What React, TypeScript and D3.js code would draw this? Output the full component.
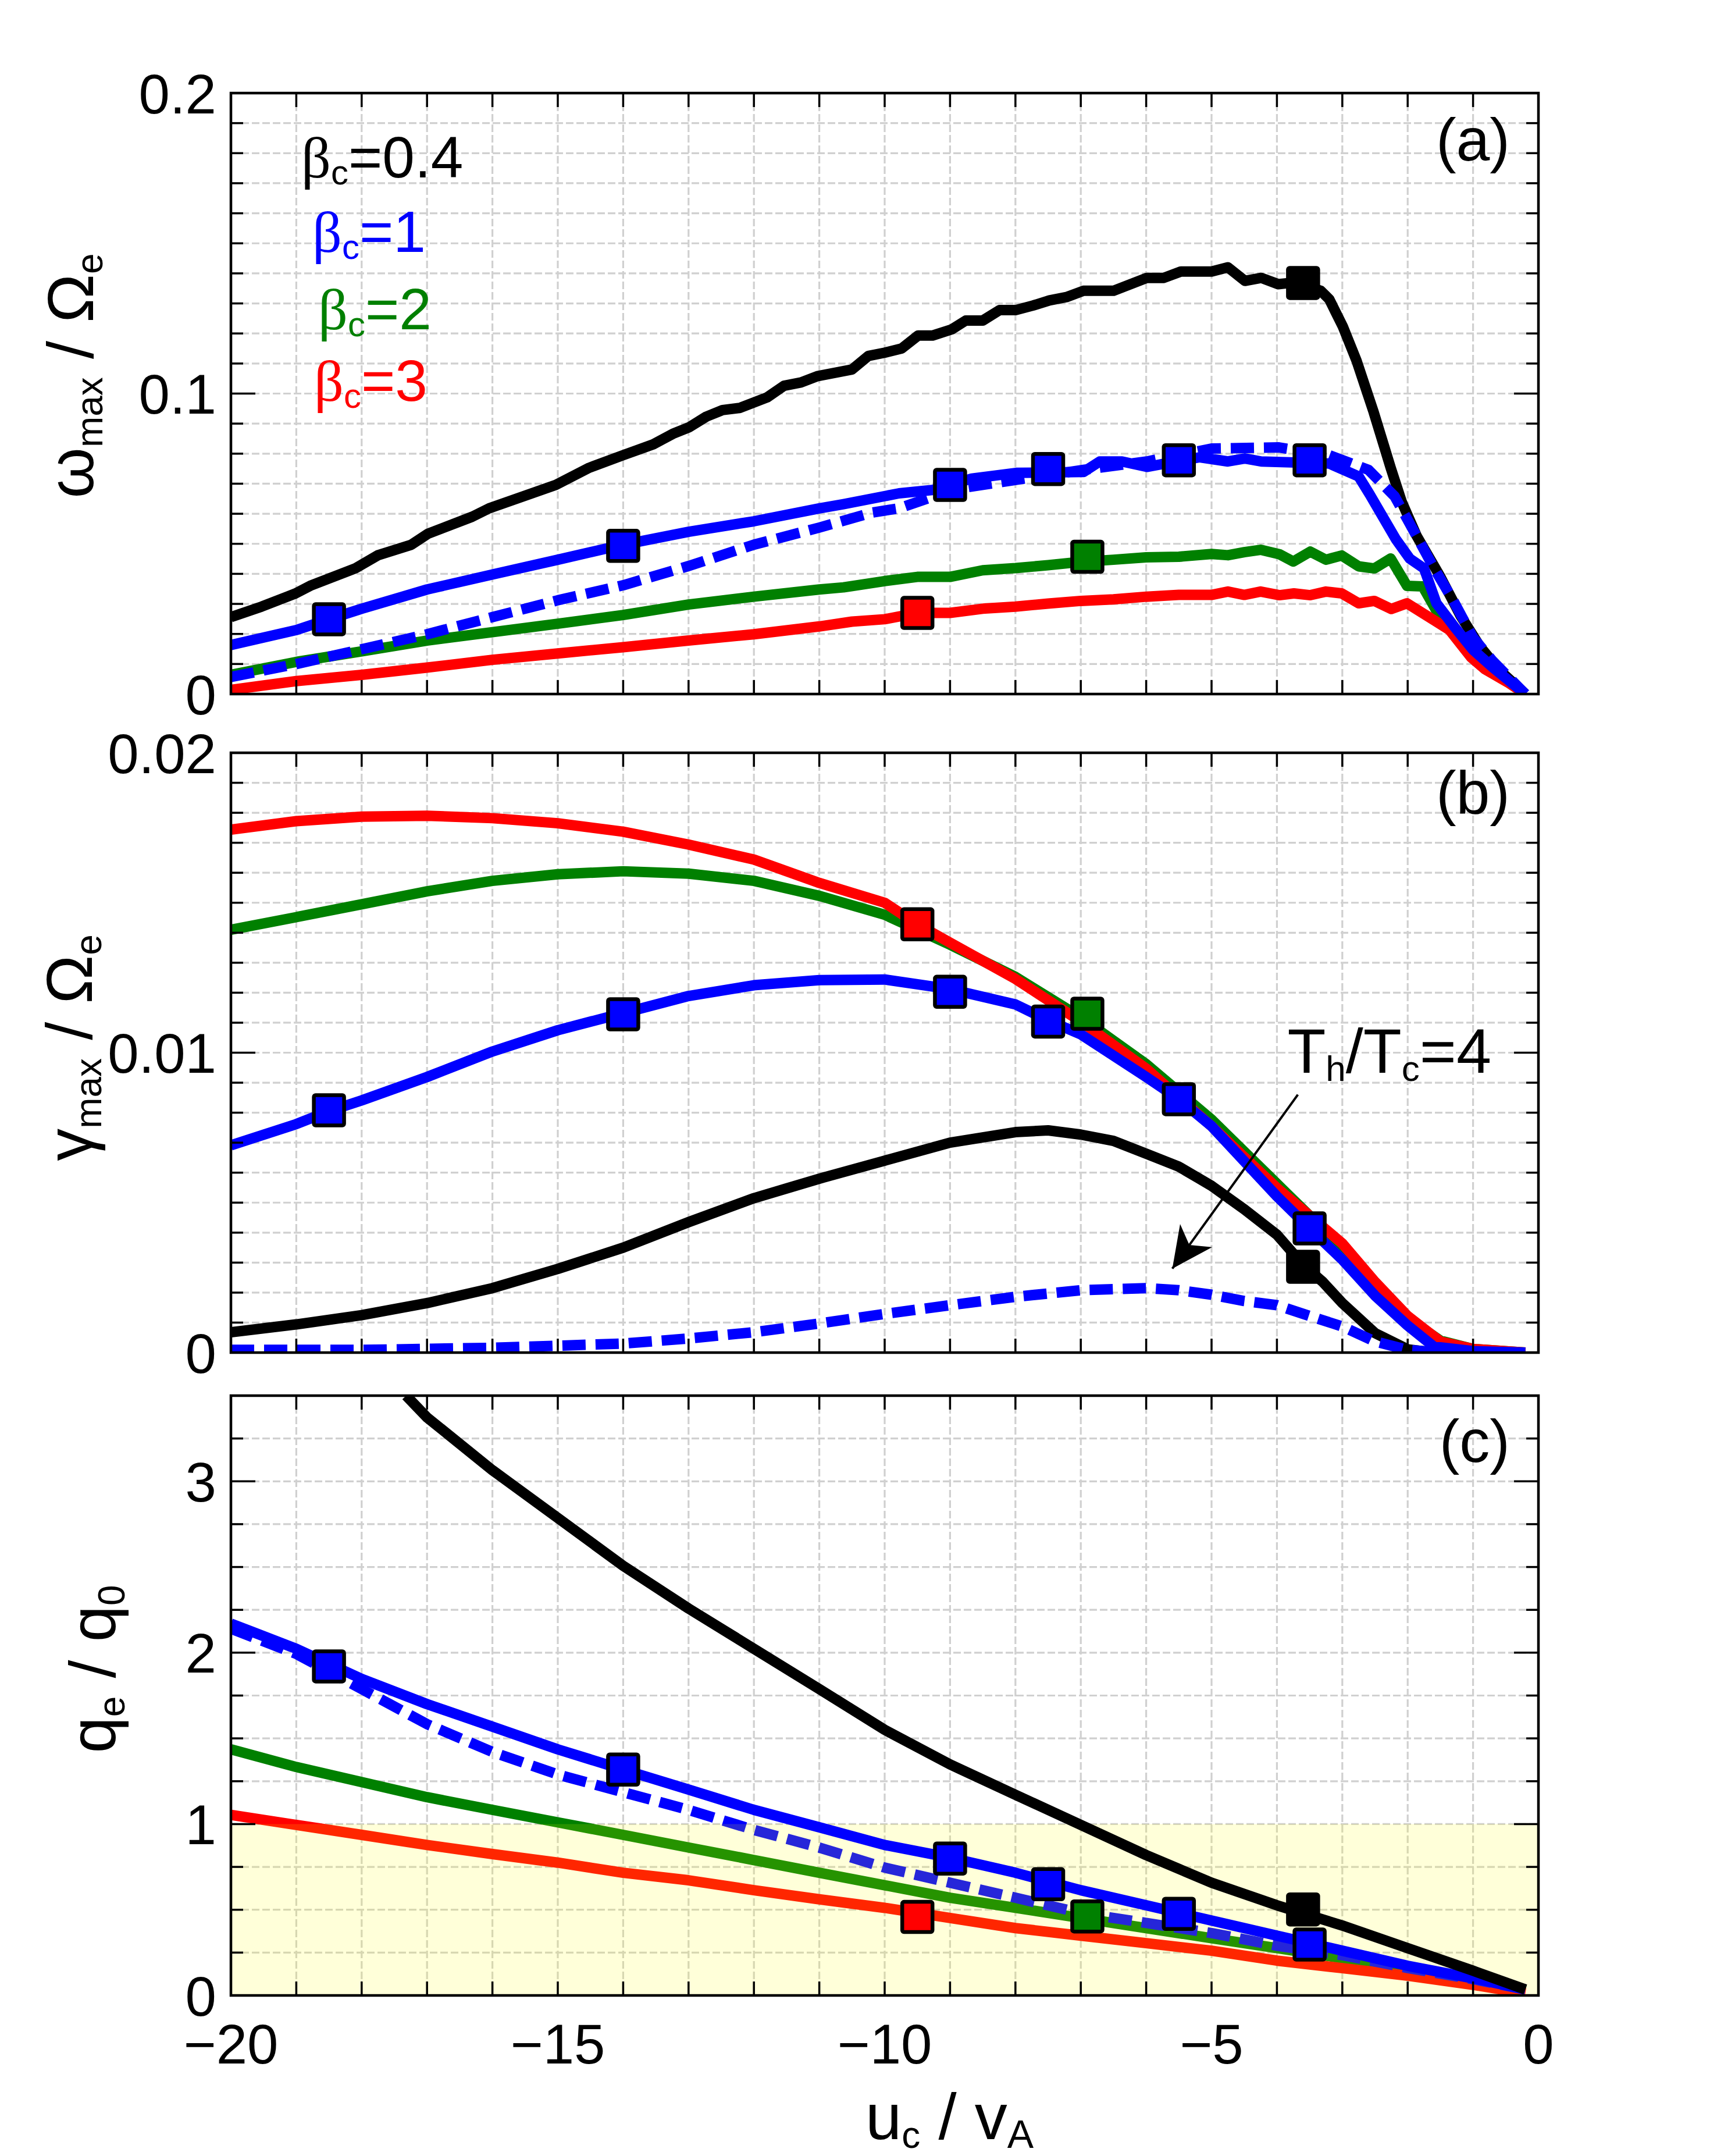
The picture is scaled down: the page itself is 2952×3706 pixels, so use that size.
import React from 'react'
import * as d3 from 'd3'

type Pt = [number, number]

// ---------- data ----------
const uDomain: [number, number] = [-20, 0]
const uTickLabels = [-20, -15, -10, -5, 0]

// (a) omega_max / Omega_e
const omegaBeta04: Pt[] = [
  [-20, 0.0256], [-19.53, 0.0291], [-19.02, 0.0334], [-18.77, 0.0362], [-18.09, 0.0419], [-17.75, 0.0462],
  [-17.24, 0.0497], [-16.99, 0.0533], [-16.31, 0.059], [-16.05, 0.0618], [-15.03, 0.0696], [-14.52, 0.0753],
  [-14.0, 0.0795], [-13.54, 0.0831], [-13.24, 0.0866], [-12.99, 0.0888], [-12.73, 0.0923], [-12.48, 0.0945],
  [-12.22, 0.0952], [-11.8, 0.0987], [-11.54, 0.1026], [-11.28, 0.1037], [-11.03, 0.1058], [-10.5, 0.108],
  [-10.25, 0.1125], [-10.0, 0.1136], [-9.74, 0.115], [-9.49, 0.1193], [-9.27, 0.1193], [-8.97, 0.1214],
  [-8.76, 0.1243], [-8.5, 0.1243], [-8.24, 0.1278], [-7.99, 0.1278], [-7.73, 0.1293], [-7.48, 0.131],
  [-7.22, 0.1321], [-6.96, 0.1342], [-6.5, 0.1342], [-5.99, 0.1385], [-5.73, 0.1385], [-5.47, 0.1406],
  [-5.0, 0.1406], [-4.75, 0.142], [-4.49, 0.1375], [-4.24, 0.1385], [-3.98, 0.1364], [-3.72, 0.137],
  [-3.33, 0.1342], [-3.2, 0.1314], [-2.99, 0.1222], [-2.78, 0.1108], [-2.52, 0.0938], [-2.26, 0.0753],
  [-2.09, 0.0639], [-1.86, 0.0525], [-1.5, 0.039], [-1.19, 0.026], [-0.9, 0.016], [-0.6, 0.008], [-0.2, 0],
]
const omegaBeta1: Pt[] = [
  [-20, 0.0163], [-19, 0.0213], [-18.5, 0.0249], [-18, 0.0284], [-17, 0.0348], [-16, 0.0398], [-15, 0.0447],
  [-14, 0.0497], [-13, 0.054], [-12, 0.0575], [-11, 0.0618], [-10.63, 0.0632], [-9.78, 0.0668], [-9.27, 0.0679],
  [-8.67, 0.0717], [-7.99, 0.0736], [-6.96, 0.0739], [-6.71, 0.0774], [-6.37, 0.0774], [-5.99, 0.0756],
  [-5.18, 0.0788], [-4.75, 0.0774], [-4.49, 0.0784], [-4.24, 0.0774], [-3.2, 0.0767], [-2.75, 0.0724],
  [-2.58, 0.0664], [-2.18, 0.0515], [-1.97, 0.0451], [-1.75, 0.0418], [-1.56, 0.0302], [-1.29, 0.0225],
  [-1.0, 0.0147], [-0.7, 0.0089], [-0.2, 0],
]
const omegaBeta1Hot: Pt[] = [
  [-20, 0.0057], [-19, 0.01], [-18, 0.0149], [-17, 0.0199], [-16, 0.0256], [-15, 0.0312], [-14, 0.0362],
  [-13, 0.0426], [-12, 0.0497], [-11, 0.0554], [-10.19, 0.0604], [-9.78, 0.0618], [-8.93, 0.0682],
  [-8.08, 0.071], [-6.96, 0.0746], [-5.99, 0.0774], [-5.0, 0.0817], [-3.98, 0.0821], [-3.2, 0.0795],
  [-2.6, 0.0746], [-2.2, 0.0658], [-1.9, 0.054], [-1.6, 0.042], [-1.3, 0.031], [-1.0, 0.0188], [-0.7, 0.011],
  [-0.2, 0],
]
const omegaBeta2: Pt[] = [
  [-20, 0.0064], [-19, 0.0107], [-18, 0.0142], [-17, 0.0178], [-16, 0.0206], [-15, 0.0234], [-14, 0.0263],
  [-13, 0.0298], [-12, 0.0324], [-11, 0.0348], [-10.63, 0.0355], [-10, 0.0376], [-9.5, 0.039], [-9, 0.039],
  [-8.5, 0.0412], [-8, 0.0419], [-7.5, 0.0429], [-7, 0.044], [-6.5, 0.0447], [-6, 0.0455], [-5.5, 0.0457],
  [-5, 0.0466], [-4.75, 0.0462], [-4.5, 0.0472], [-4.25, 0.048], [-3.96, 0.0465], [-3.75, 0.0441],
  [-3.49, 0.0474], [-3.25, 0.0447], [-3.01, 0.0461], [-2.75, 0.0425], [-2.51, 0.0418], [-2.26, 0.0451],
  [-2.01, 0.036], [-1.77, 0.0358], [-1.56, 0.0277], [-1.3, 0.02], [-1.0, 0.013], [-0.7, 0.008], [-0.2, 0],
]
const omegaBeta3: Pt[] = [
  [-20, 0.0014], [-19, 0.0043], [-18, 0.0064], [-17, 0.0088], [-16, 0.0114], [-15, 0.0135], [-14, 0.0156],
  [-13, 0.0178], [-12, 0.0199], [-11, 0.0225], [-10.5, 0.0241], [-10, 0.0249], [-9.5, 0.027], [-9, 0.027],
  [-8.5, 0.0284], [-8, 0.0291], [-7.5, 0.0301], [-7, 0.031], [-6.5, 0.0315], [-6, 0.0324], [-5.5, 0.033],
  [-5, 0.033], [-4.75, 0.0341], [-4.5, 0.033], [-4.25, 0.0341], [-3.96, 0.0329], [-3.74, 0.0335],
  [-3.49, 0.0329], [-3.25, 0.0341], [-3.01, 0.0335], [-2.75, 0.0302], [-2.51, 0.031], [-2.25, 0.0283],
  [-2.01, 0.0302], [-1.54, 0.0238], [-1.36, 0.0213], [-1.03, 0.0122], [-0.82, 0.0083], [-0.47, 0.0039],
  [-0.2, 0],
]

// (b) gamma_max / Omega_e
const gammaBeta04: Pt[] = [
  [-20, 0.00068], [-19, 0.00094], [-18, 0.00125], [-17, 0.00165], [-16, 0.00215], [-15, 0.00279],
  [-14, 0.0035], [-13, 0.00435], [-12, 0.00515], [-11, 0.0058], [-10, 0.0064], [-9, 0.007], [-8, 0.00735],
  [-7.5, 0.00741], [-7, 0.00727], [-6.5, 0.00706], [-6, 0.00663], [-5.5, 0.0062], [-5, 0.00556],
  [-4.5, 0.00478], [-4, 0.00393], [-3.6, 0.00293], [-3.3, 0.00236], [-3, 0.00165], [-2.5, 0.00065],
  [-2, 0.00011], [-1.6, 0], [-0.2, 0],
]
const gammaBeta1: Pt[] = [
  [-20, 0.00691], [-19, 0.00762], [-18.5, 0.00805], [-18, 0.00841], [-17, 0.00919], [-16, 0.01004],
  [-15, 0.01075], [-14, 0.01132], [-13, 0.01189], [-12, 0.01225], [-11, 0.01242], [-10, 0.01244],
  [-9, 0.01212], [-8, 0.01161], [-7.5, 0.01108], [-7, 0.01061], [-6, 0.00919], [-5.5, 0.00845],
  [-5, 0.00755], [-4, 0.00521], [-3.5, 0.00414], [-3, 0.0031], [-2.5, 0.0019], [-2, 0.0009], [-1.6, 0.0002],
  [-1, 0.00005], [-0.2, 0],
]
const gammaBeta1Hot: Pt[] = [
  [-20, 0.00009], [-18, 0.00009], [-16, 0.00016], [-15, 0.00023], [-14, 0.0003], [-13, 0.00047],
  [-12, 0.00068], [-11, 0.00097], [-10, 0.00129], [-9, 0.00158], [-8, 0.00186], [-7, 0.00208],
  [-6, 0.00215], [-5.5, 0.00208], [-5, 0.00193], [-4.5, 0.00172], [-4, 0.00158], [-3.5, 0.00122],
  [-3, 0.00087], [-2.5, 0.00037], [-2, 0.00009], [-1.5, 0],
]
const gammaBeta2: Pt[] = [
  [-20, 0.0141], [-19, 0.01452], [-18, 0.01495], [-17, 0.01538], [-16, 0.01573], [-15, 0.01595],
  [-14, 0.01605], [-13, 0.01597], [-12, 0.01573], [-11, 0.01523], [-10, 0.0146], [-9, 0.0136],
  [-8, 0.01253], [-7, 0.01118], [-6, 0.00962], [-5, 0.00777], [-4, 0.00563], [-3, 0.0035], [-2.5, 0.0022],
  [-2, 0.00115], [-1.5, 0.0004], [-1, 0.00012], [-0.2, 0],
]
const gammaBeta3: Pt[] = [
  [-20, 0.01744], [-19, 0.01772], [-18, 0.01787], [-17, 0.0179], [-16, 0.01782], [-15, 0.01765],
  [-14, 0.01737], [-13, 0.01694], [-12, 0.01644], [-11, 0.01566], [-10, 0.015], [-9.5, 0.01428],
  [-9, 0.01367], [-8, 0.01246], [-7, 0.01104], [-6, 0.00947], [-5, 0.00755], [-4, 0.00549], [-3, 0.00364],
  [-2.5, 0.00236], [-2, 0.00122], [-1.5, 0.00037], [-1, 0.00012], [-0.2, 0],
]

// (c) q_e / q_0
const qBeta04: Pt[] = [
  [-17.32, 3.5], [-17, 3.373], [-16, 3.065], [-15, 2.786], [-14, 2.507], [-13, 2.258], [-12, 2.023],
  [-11, 1.788], [-10, 1.55], [-9, 1.348], [-8, 1.171], [-7, 0.995], [-6, 0.819], [-5, 0.658], [-4, 0.526],
  [-3, 0.408], [-2, 0.276], [-1, 0.144], [-0.2, 0.035],
]
const qBeta1: Pt[] = [
  [-20, 2.17], [-19, 2.023], [-18, 1.847], [-17, 1.7], [-16, 1.568], [-15, 1.436], [-14, 1.318], [-13, 1.201],
  [-12, 1.083], [-11, 0.981], [-10, 0.878], [-9, 0.804], [-8, 0.716], [-7, 0.614], [-6, 0.526], [-5, 0.437],
  [-4, 0.349], [-3, 0.261], [-2, 0.173], [-1, 0.1], [-0.2, 0.035],
]
const qBeta1Hot: Pt[] = [
  [-20, 2.14], [-19, 1.993], [-18, 1.788], [-17, 1.583], [-16, 1.421], [-15, 1.289], [-14, 1.186],
  [-13, 1.083], [-12, 0.966], [-11, 0.863], [-10, 0.746], [-9, 0.658], [-8, 0.57], [-7, 0.481], [-6, 0.423],
  [-5, 0.364], [-4, 0.29], [-3, 0.235], [-2, 0.16], [-1, 0.095], [-0.2, 0.035],
]
const qBeta2: Pt[] = [
  [-20, 1.436], [-19, 1.333], [-18, 1.245], [-17, 1.157], [-16, 1.083], [-15, 1.01], [-14, 0.937],
  [-13, 0.863], [-12, 0.79], [-11, 0.716], [-10, 0.643], [-9, 0.57], [-8, 0.511], [-7, 0.452], [-6, 0.393],
  [-5, 0.334], [-4, 0.276], [-3, 0.217], [-2, 0.159], [-1, 0.1], [-0.2, 0.026],
]
const qBeta3: Pt[] = [
  [-20, 1.054], [-19, 0.995], [-18, 0.937], [-17, 0.878], [-16, 0.825], [-15, 0.775], [-14, 0.716],
  [-13, 0.672], [-12, 0.614], [-11, 0.561], [-10, 0.511], [-9, 0.452], [-8, 0.393], [-7, 0.349], [-6, 0.305],
  [-5, 0.261], [-4, 0.203], [-3, 0.159], [-2, 0.115], [-1, 0.062], [-0.2, 0.012],
]

// square markers
const markU04 = [-3.6]
const markU1 = [-18.5, -14, -9, -7.5, -5.5, -3.5]
const markU2 = [-6.9]
const markU3 = [-9.5]
const markOmega04 = [0.1368]
const markOmega1 = [0.0249, 0.0493, 0.0696, 0.0749, 0.0778, 0.0778]
const markOmega2 = [0.0457]
const markOmega3 = [0.027]
const markGamma04 = [0.00286]
const markGamma1 = [0.00808, 0.01128, 0.01203, 0.01104, 0.00845, 0.00414]
const markGamma2 = [0.0113]
const markGamma3 = [0.01428]
const markQ04 = [0.502]
const markQ1 = [1.92, 1.318, 0.799, 0.649, 0.476, 0.297]
const markQ2 = [0.461]
const markQ3 = [0.458]

const betaLabels = ['0.4', '1', '2', '3']
const betaColors = ['#000000', '#0000ff', '#008000', '#ff0000']

// ---------- layout ----------
const W = 2952
const H = 3706
const X_LEFT = 397
const X_RIGHT = 2645
const FONT = "'Liberation Sans', Arial, Helvetica, sans-serif"
const SERIF = "'Liberation Serif', 'Times New Roman', serif"
const TICK_FS = 96
const TITLE_FS = 112
const SUB_FS = 64
const LW = 18
const MK = 52

const x = d3.scaleLinear().domain(uDomain).range([X_LEFT, X_RIGHT])

interface LineSpec { data: Pt[]; color: string; dashed?: boolean; overShade?: boolean }
interface MarkSpec { u: number[]; v: number[]; color: string }

interface PanelProps {
  id: string
  top: number
  bottom: number
  yMax: number
  yStep: number
  yMajor: number
  yFmt: (v: number) => string
  lines: LineSpec[]
  marks: MarkSpec[]
  tag: string
  tagBase: number
  shadeMax?: number
  xLabels?: boolean
  extra?: (y: d3.ScaleLinear<number, number>) => React.ReactNode
}

function Panel(p: PanelProps) {
  const y = d3.scaleLinear().domain([0, p.yMax]).range([p.bottom, p.top])
  const line = d3.line<Pt>().x(d => x(d[0])).y(d => y(d[1]))
  const nY = Math.round(p.yMax / p.yStep)
  const majorEvery = Math.round(p.yMajor / p.yStep)
  const yIdx = d3.range(1, nY)
  const xVals = d3.range(uDomain[0] + 1, uDomain[1])
  const labelVals = d3.range(0, Math.floor(p.yMax / p.yMajor + 1e-9) + 1).map(i => i * p.yMajor)

  const drawLine = (s: LineSpec, i: number) => (
    <path key={p.id + 'l' + i} d={line(s.data) || ''} fill="none" stroke={s.color} strokeWidth={LW}
      strokeLinejoin="round" strokeDasharray={s.dashed ? '40 17' : undefined} />
  )

  return (
    <g>
      <defs>
        <clipPath id={'clip-' + p.id}>
          <rect x={X_LEFT} y={p.top} width={X_RIGHT - X_LEFT} height={p.bottom - p.top} />
        </clipPath>
      </defs>
      {/* grid */}
      <g stroke="#d0d0d0" strokeWidth={3.2} strokeDasharray="13 5">
        {xVals.map(u => <line key={'gx' + u} x1={x(u)} x2={x(u)} y1={p.top} y2={p.bottom} />)}
        {yIdx.map(i => <line key={'gy' + i} x1={X_LEFT} x2={X_RIGHT} y1={y(i * p.yStep)} y2={y(i * p.yStep)} />)}
      </g>
      <g clipPath={`url(#clip-${p.id})`}>
        {p.lines.filter(s => !s.overShade).map(drawLine)}
        {p.shadeMax !== undefined && (
          <rect x={X_LEFT} y={y(p.shadeMax)} width={X_RIGHT - X_LEFT} height={p.bottom - y(p.shadeMax)}
            fill="#ffff00" fillOpacity={0.15} />
        )}
        {p.lines.filter(s => s.overShade).map(drawLine)}
      </g>
      {p.marks.map((m, j) => m.u.map((u, k) => (
        <rect key={p.id + 'm' + j + '-' + k} x={x(u) - MK / 2} y={y(m.v[k]) - MK / 2} width={MK} height={MK} rx={3}
          fill={m.color} stroke="#000" strokeWidth={6.5} />
      )))}
      {/* frame */}
      <rect x={X_LEFT} y={p.top} width={X_RIGHT - X_LEFT} height={p.bottom - p.top} fill="none" stroke="#000" strokeWidth={4.5} />
      <g stroke="#000" strokeWidth={3.5}>
        {xVals.map(u => (
          <g key={'tx' + u}>
            <line x1={x(u)} x2={x(u)} y1={p.bottom} y2={p.bottom - 24} />
            <line x1={x(u)} x2={x(u)} y1={p.top} y2={p.top + 24} />
          </g>
        ))}
        {yIdx.map(i => {
          const len = i % majorEvery === 0 ? 42 : 21
          const yy = y(i * p.yStep)
          return (
            <g key={'ty' + i}>
              <line x1={X_LEFT} x2={X_LEFT + len} y1={yy} y2={yy} />
              <line x1={X_RIGHT} x2={X_RIGHT - len} y1={yy} y2={yy} />
            </g>
          )
        })}
      </g>
      <g fontSize={TICK_FS} textAnchor="end">
        {labelVals.map(v => (
          <text key={'yl' + v} x={372} y={y(v) + TICK_FS * 0.36}>{p.yFmt(v)}</text>
        ))}
      </g>
      {p.xLabels && (
        <g fontSize={TICK_FS} textAnchor="middle">
          {uTickLabels.map(u => (
            <text key={'xl' + u} x={x(u)} y={p.bottom + 117}>{u < 0 ? '\u2212' + Math.abs(u) : String(u)}</text>
          ))}
        </g>
      )}
      <text x={2596} y={p.tagBase} fontSize={104} textAnchor="end">{p.tag}</text>
      {p.extra && p.extra(y)}
    </g>
  )
}

function YTitle({ bx, cy, main, sub1, mid, sub2 }: { bx: number; cy: number; main: string; sub1: string; mid: string; sub2: string }) {
  return (
    <text transform={`translate(${bx},${cy}) rotate(-90)`} textAnchor="middle" fontSize={TITLE_FS}>
      <tspan>{main}</tspan>
      <tspan fontSize={SUB_FS} dy={16}>{sub1}</tspan>
      <tspan dy={-16}>{mid}</tspan>
      <tspan fontSize={SUB_FS} dy={16}>{sub2}</tspan>
    </text>
  )
}

const legendX = [518, 537, 547, 540]
const legendBase = [305, 433, 566, 689]

function arrowHead(x1: number, y1: number, x2: number, y2: number) {
  const dx = x2 - x1
  const dy = y2 - y1
  const L = Math.hypot(dx, dy)
  const ux = dx / L
  const uy = dy / L
  const px = -uy
  const py = ux
  const bx = x2 - ux * 70
  const by = y2 - uy * 70
  const nx = x2 - ux * 50
  const ny = y2 - uy * 50
  return `M${x2},${y2}L${bx + px * 34},${by + py * 34}L${nx},${ny}L${bx - px * 34},${by - py * 34}Z`
}

export default function App() {
  return (
    <svg width={W} height={H} viewBox={`0 0 ${W} ${H}`} fontFamily={FONT}
      style={{ position: 'absolute', left: 0, top: 0, background: '#fff' }}>
      <rect x={0} y={0} width={W} height={H} fill="#fff" />

      <Panel id="a" top={160} bottom={1193} yMax={0.2} yStep={0.01} yMajor={0.1}
        yFmt={v => (v === 0 ? '0' : v.toFixed(1))} tag="(a)" tagBase={276}
        lines={[
          { data: omegaBeta04, color: betaColors[0] },
          { data: omegaBeta2, color: betaColors[2] },
          { data: omegaBeta3, color: betaColors[3] },
          { data: omegaBeta1Hot, color: betaColors[1], dashed: true },
          { data: omegaBeta1, color: betaColors[1] },
        ]}
        marks={[
          { u: markU04, v: markOmega04, color: betaColors[0] },
          { u: markU1, v: markOmega1, color: betaColors[1] },
          { u: markU2, v: markOmega2, color: betaColors[2] },
          { u: markU3, v: markOmega3, color: betaColors[3] },
        ]}
        extra={() => (
          <g>
            {betaLabels.map((b, i) => (
              <text key={'lg' + i} x={legendX[i]} y={legendBase[i]} fontSize={100} fill={betaColors[i]}>
                <tspan fontFamily={SERIF}>β</tspan>
                <tspan fontSize={60} dy={12}>c</tspan>
                <tspan dy={-12}>{'=' + b}</tspan>
              </text>
            ))}
          </g>
        )}
      />
      <YTitle bx={160} cy={646} main="ω" sub1="max" mid=" / Ω" sub2="e" />

      <Panel id="b" top={1294} bottom={2325} yMax={0.02} yStep={0.001} yMajor={0.01}
        yFmt={v => (v === 0 ? '0' : v.toFixed(2))} tag="(b)" tagBase={1398}
        lines={[
          { data: gammaBeta04, color: betaColors[0] },
          { data: gammaBeta2, color: betaColors[2] },
          { data: gammaBeta3, color: betaColors[3] },
          { data: gammaBeta1Hot, color: betaColors[1], dashed: true },
          { data: gammaBeta1, color: betaColors[1] },
        ]}
        marks={[
          { u: markU04, v: markGamma04, color: betaColors[0] },
          { u: markU1, v: markGamma1, color: betaColors[1] },
          { u: markU2, v: markGamma2, color: betaColors[2] },
          { u: markU3, v: markGamma3, color: betaColors[3] },
        ]}
        extra={y => {
          const x1 = x(-3.68), y1 = y(0.0086)
          const x2 = x(-5.6), y2 = y(0.0028)
          return (
            <g>
              <line x1={x1} y1={y1} x2={x2} y2={y2} stroke="#000" strokeWidth={4} />
              <path d={arrowHead(x1, y1, x2, y2)} fill="#000" />
              <text x={x(-3.84)} y={y(0.00933)} fontSize={108}>
                T<tspan fontSize={62} dy={14}>h</tspan>
                <tspan dy={-14}>/T</tspan>
                <tspan fontSize={62} dy={14}>c</tspan>
                <tspan dy={-14}>=4</tspan>
              </text>
            </g>
          )
        }}
      />
      <YTitle bx={158} cy={1801} main="γ" sub1="max" mid=" / Ω" sub2="e" />

      <Panel id="c" top={2399} bottom={3430} yMax={3.5} yStep={0.25} yMajor={1}
        yFmt={v => String(v)} tag="(c)" tagBase={2513} shadeMax={1} xLabels
        lines={[
          { data: qBeta2, color: betaColors[2] },
          { data: qBeta3, color: betaColors[3] },
          { data: qBeta1Hot, color: betaColors[1], dashed: true },
          { data: qBeta1, color: betaColors[1], overShade: true },
          { data: qBeta04, color: betaColors[0], overShade: true },
        ]}
        marks={[
          { u: markU04, v: markQ04, color: betaColors[0] },
          { u: markU1, v: markQ1, color: betaColors[1] },
          { u: markU2, v: markQ2, color: betaColors[2] },
          { u: markU3, v: markQ3, color: betaColors[3] },
        ]}
      />
      <YTitle bx={198} cy={2869} main="q" sub1="e" mid=" / q" sub2="0" />

      <text x={1488} y={3677} fontSize={TITLE_FS}>
        u<tspan fontSize={SUB_FS} dy={15}>c</tspan>
        <tspan dy={-15}> / v</tspan>
        <tspan fontSize={SUB_FS + 4} dy={15}>A</tspan>
      </text>
    </svg>
  )
}
